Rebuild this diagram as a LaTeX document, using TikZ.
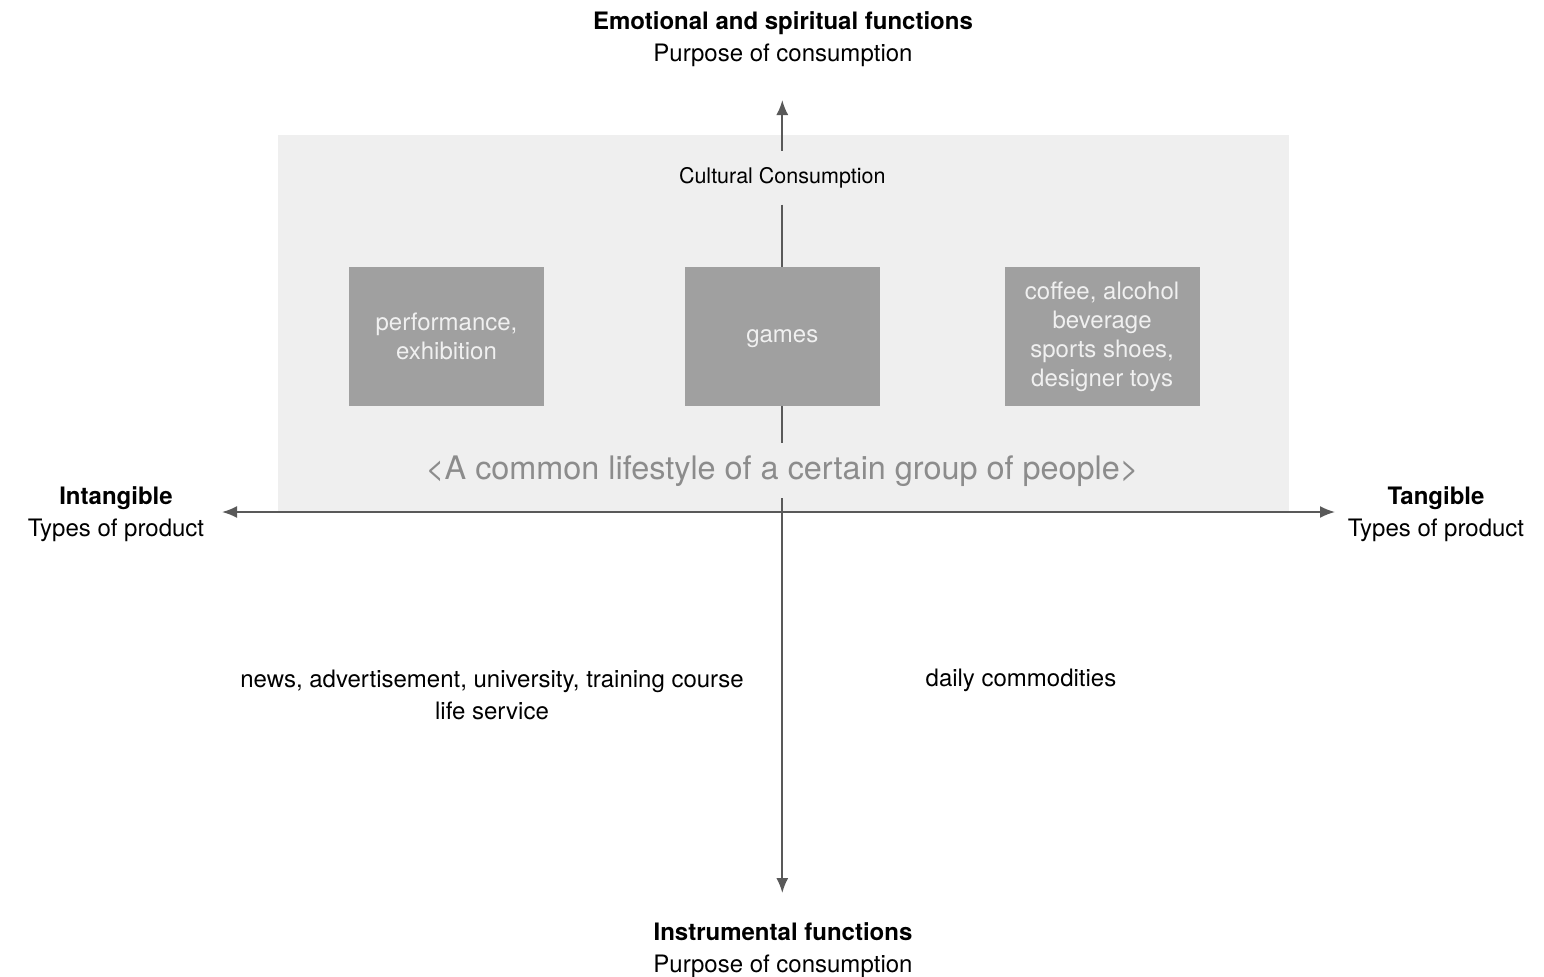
\documentclass[tikz,border=0pt]{standalone}
\usepackage{fontspec}
\setmainfont{TeX Gyre Heros}
\usetikzlibrary{arrows.meta,positioning}

\definecolor{panelgray}{HTML}{EFEFEF}
\definecolor{boxgray}{HTML}{A0A0A0}
\definecolor{lifegray}{HTML}{8C8C8C}

\begin{document}
\begin{tikzpicture}[x=0.5pt,y=-0.5pt,
	axisline/.style={draw=black!65,line width=0.9pt},
	axis/.style={axisline,-{Latex[length=7.5pt,width=6pt]}},
	item/.style={fill=boxgray,text=white!94!black,minimum width=97.5pt,minimum height=69.5pt,
		align=center,inner sep=0pt,font=\fontsize{12}{14.5}\selectfont},
	pole/.style={align=center,font=\fontsize{12}{16}\selectfont}]
	\useasboundingbox (0,0) rectangle (1544,976);

	% shaded region of cultural consumption
	\fill[panelgray] (278,135) rectangle (1289,511);

	% axis ends
	\coordinate (top) at (782,100);
	\coordinate (bottom) at (782,893);
	\coordinate (left) at (222,512);
	\coordinate (right) at (1335,512);

	% pole labels
	\node[pole] (emo) at (783,39.5) {\textbf{Emotional and spiritual functions}\\Purpose of consumption};
	\node[pole] (instr) at (783,950) {\textbf{Instrumental functions}\\Purpose of consumption};
	\node[pole] (intang) at (116,514) {\textbf{Intangible}\\Types of product};
	\node[pole] (tang) at (1436,514) {\textbf{Tangible}\\Types of product};

	% inside the panel
	\node[item] (perf) at (446.5,336.5) {performance,\\exhibition};
	\node[item,right=70pt of perf] (games) {\strut games};
	\node[item,right=62pt of games] (goods) {coffee, alcohol\\beverage\\sports shoes,\\designer toys};
	\node[above=31pt of games,minimum height=26.5pt,inner sep=0pt,font=\fontsize{10.75}{13}\selectfont] (cult) {Cultural Consumption};
	\node[below=18.5pt of games,minimum height=27pt,inner sep=0pt,text=lifegray,font=\fontsize{16.2}{18}\selectfont] (life)
		{<A common lifestyle of a certain group of people>};

	% lower quadrants
	\node[pole] (service) at (492,695) {news, advertisement, university, training course\\life service};
	\node[pole] (daily) at (1021,680) {daily commodities};

	% axes
	\draw[axis] (cult.north) -- (cult.north |- top);
	\draw[axisline] (cult.south) -- (games.north);
	\draw[axisline] (games.south) -- (life.north);
	\draw[axis] (life.south) -- (life.south |- bottom);
	\draw[axisline,{Latex[length=7.5pt,width=6pt]}-{Latex[length=7.5pt,width=6pt]}] (left) -- (right);
\end{tikzpicture}
\end{document}
